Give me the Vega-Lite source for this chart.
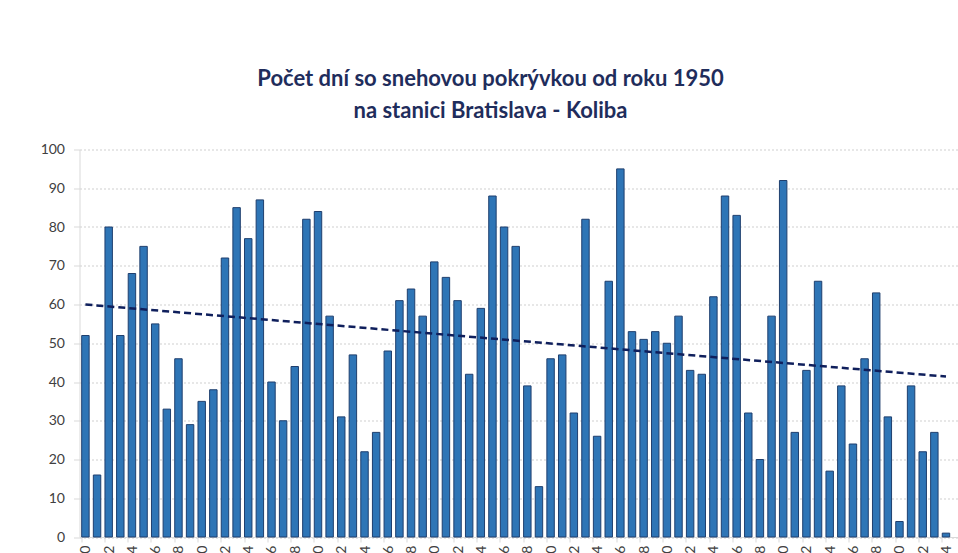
{
  "$schema": "https://vega.github.io/schema/vega-lite/v6.json",
  "autosize": {"type": "none"},
  "width": 878,
  "height": 387.5,
  "padding": {"left": 79.5, "top": 149.5, "right": 0.5, "bottom": 16},
  "background": "white",
  "title": {
    "text": ["Počet dní so snehovou pokrývkou od roku 1950", "na stanici Bratislava - Koliba"],
    "font": "Lato",
    "fontSize": 22,
    "fontWeight": "bold",
    "color": "#1F2D5C",
    "anchor": "middle",
    "frame": "group",
    "offset": 20,
    "lineHeight": 32,
    "dx": -28
  },
  "config": {"view": {"stroke": null}},
  "datasets": {
    "snow": [
      {"year": 1950, "days": 52}, {"year": 1951, "days": 16}, {"year": 1952, "days": 80}, {"year": 1953, "days": 52},
      {"year": 1954, "days": 68}, {"year": 1955, "days": 75}, {"year": 1956, "days": 55}, {"year": 1957, "days": 33},
      {"year": 1958, "days": 46}, {"year": 1959, "days": 29}, {"year": 1960, "days": 35}, {"year": 1961, "days": 38},
      {"year": 1962, "days": 72}, {"year": 1963, "days": 85}, {"year": 1964, "days": 77}, {"year": 1965, "days": 87},
      {"year": 1966, "days": 40}, {"year": 1967, "days": 30}, {"year": 1968, "days": 44}, {"year": 1969, "days": 82},
      {"year": 1970, "days": 84}, {"year": 1971, "days": 57}, {"year": 1972, "days": 31}, {"year": 1973, "days": 47},
      {"year": 1974, "days": 22}, {"year": 1975, "days": 27}, {"year": 1976, "days": 48}, {"year": 1977, "days": 61},
      {"year": 1978, "days": 64}, {"year": 1979, "days": 57}, {"year": 1980, "days": 71}, {"year": 1981, "days": 67},
      {"year": 1982, "days": 61}, {"year": 1983, "days": 42}, {"year": 1984, "days": 59}, {"year": 1985, "days": 88},
      {"year": 1986, "days": 80}, {"year": 1987, "days": 75}, {"year": 1988, "days": 39}, {"year": 1989, "days": 13},
      {"year": 1990, "days": 46}, {"year": 1991, "days": 47}, {"year": 1992, "days": 32}, {"year": 1993, "days": 82},
      {"year": 1994, "days": 26}, {"year": 1995, "days": 66}, {"year": 1996, "days": 95}, {"year": 1997, "days": 53},
      {"year": 1998, "days": 51}, {"year": 1999, "days": 53}, {"year": 2000, "days": 50}, {"year": 2001, "days": 57},
      {"year": 2002, "days": 43}, {"year": 2003, "days": 42}, {"year": 2004, "days": 62}, {"year": 2005, "days": 88},
      {"year": 2006, "days": 83}, {"year": 2007, "days": 32}, {"year": 2008, "days": 20}, {"year": 2009, "days": 57},
      {"year": 2010, "days": 92}, {"year": 2011, "days": 27}, {"year": 2012, "days": 43}, {"year": 2013, "days": 66},
      {"year": 2014, "days": 17}, {"year": 2015, "days": 39}, {"year": 2016, "days": 24}, {"year": 2017, "days": 46},
      {"year": 2018, "days": 63}, {"year": 2019, "days": 31}, {"year": 2020, "days": 4}, {"year": 2021, "days": 39},
      {"year": 2022, "days": 22}, {"year": 2023, "days": 27}, {"year": 2024, "days": 1}
    ],
    "trend": [
      {"year": 1950, "days": 60.0},
      {"year": 2024, "days": 41.4}
    ]
  },
  "encoding": {
    "x": {
      "field": "year",
      "type": "ordinal",
      "scale": {"paddingInner": 0.36, "paddingOuter": 0.43, "align": 0.22},
      "axis": {
        "title": null,
        "values": [1950, 1952, 1954, 1956, 1958, 1960, 1962, 1964, 1966, 1968, 1970, 1972, 1974, 1976, 1978, 1980, 1982, 1984, 1986, 1988, 1990, 1992, 1994, 1996, 1998, 2000, 2002, 2004, 2006, 2008, 2010, 2012, 2014, 2016, 2018, 2020, 2022, 2024],
        "labelExpr": "substring(datum.label, 2)",
        "labelAngle": -90,
        "bandPosition": 0,
        "labelOffset": 1,
        "tickSize": 5,
        "tickColor": "#d9d9d9",
        "domainColor": "#d9d9d9",
        "labelColor": "#404040",
        "labelFont": "Lato",
        "labelFontSize": 14,
        "labelPadding": 3,
        "labelOverlap": false,
        "grid": false
      }
    },
    "y": {
      "field": "days",
      "type": "quantitative",
      "scale": {"domain": [0, 100], "nice": false},
      "axis": {
        "title": null,
        "values": [0, 10, 20, 30, 40, 50, 60, 70, 80, 90, 100],
        "labelOverlap": false,
        "grid": true,
        "gridColor": "#cfcfcf",
        "gridDash": [2, 2],
        "domainColor": "#d9d9d9",
        "tickColor": "#d9d9d9",
        "tickSize": 6,
        "labelPadding": 9,
        "labelFont": "Lato",
        "labelFontSize": 14,
        "labelColor": "#404040"
      }
    }
  },
  "layer": [
    {
      "data": {"name": "snow"},
      "mark": {"type": "bar", "fill": "#2E75B6", "stroke": "#1F3F6E", "strokeWidth": 1}
    },
    {
      "data": {"name": "trend"},
      "mark": {"type": "line", "color": "#0F1F5C", "strokeWidth": 2.5, "strokeDash": [7, 4]}
    }
  ]
}
